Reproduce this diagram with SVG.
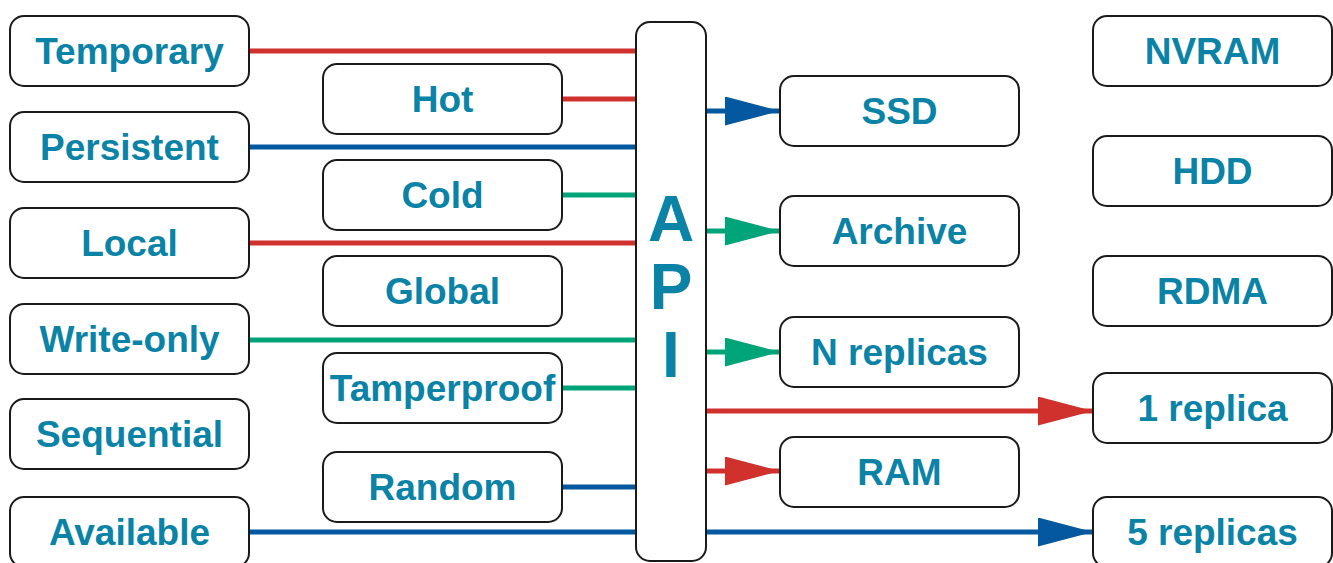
<svg xmlns="http://www.w3.org/2000/svg" width="1333" height="563" viewBox="0 0 1333 563">
<style>
.box{fill:#fff;stroke:#1a1a1a;stroke-width:2}
.t{font-family:"Liberation Sans",Arial,sans-serif;font-weight:bold;font-size:37px;fill:#0a83a6;text-anchor:middle}
.api{font-family:"Liberation Sans",Arial,sans-serif;font-weight:bold;font-size:64px;fill:#0a83a6;text-anchor:middle}
.r{stroke:#d0312d;stroke-width:5;fill:none}
.b{stroke:#03589f;stroke-width:5;fill:none}
.g{stroke:#00a479;stroke-width:5;fill:none}
</style>
<defs>
<marker id="mr" markerUnits="userSpaceOnUse" markerWidth="56" markerHeight="30" refX="55" refY="14.5" orient="auto"><path d="M0,0 L55,14.5 L0,29 z" fill="#d0312d"/></marker>
<marker id="mb" markerUnits="userSpaceOnUse" markerWidth="56" markerHeight="30" refX="55" refY="14.5" orient="auto"><path d="M0,0 L55,14.5 L0,29 z" fill="#03589f"/></marker>
<marker id="mg" markerUnits="userSpaceOnUse" markerWidth="56" markerHeight="30" refX="55" refY="14.5" orient="auto"><path d="M0,0 L55,14.5 L0,29 z" fill="#00a479"/></marker>
</defs>
<rect width="1333" height="563" fill="#fff"/>
<g id="connectors">
<line class="r" x1="249" y1="51" x2="636" y2="51"/>
<line class="r" x1="562" y1="99" x2="636" y2="99"/>
<line class="b" x1="249" y1="147" x2="636" y2="147"/>
<line class="g" x1="562" y1="195" x2="636" y2="195"/>
<line class="r" x1="249" y1="243" x2="636" y2="243"/>
<line class="g" x1="249" y1="340" x2="636" y2="340"/>
<line class="g" x1="562" y1="388" x2="636" y2="388"/>
<line class="b" x1="562" y1="487" x2="636" y2="487"/>
<line class="b" x1="249" y1="532" x2="636" y2="532"/>
<line class="b" x1="706" y1="111" x2="780" y2="111" marker-end="url(#mb)"/>
<line class="g" x1="706" y1="231" x2="780" y2="231" marker-end="url(#mg)"/>
<line class="g" x1="706" y1="352" x2="780" y2="352" marker-end="url(#mg)"/>
<line class="r" x1="706" y1="411" x2="1093" y2="411" marker-end="url(#mr)"/>
<line class="r" x1="706" y1="471" x2="780" y2="471" marker-end="url(#mr)"/>
<line class="b" x1="706" y1="532" x2="1093" y2="532" marker-end="url(#mb)"/>
</g>
<g id="temporary"><rect class="box" x="10" y="16" width="239" height="70" rx="14"/><text class="t" x="129.5" y="64">Temporary</text></g>
<g id="persistent"><rect class="box" x="10" y="112" width="239" height="70" rx="14"/><text class="t" x="129.5" y="160">Persistent</text></g>
<g id="local"><rect class="box" x="10" y="208" width="239" height="70" rx="14"/><text class="t" x="129.5" y="256">Local</text></g>
<g id="write-only"><rect class="box" x="10" y="304" width="239" height="70" rx="14"/><text class="t" x="129.5" y="352">Write-only</text></g>
<g id="sequential"><rect class="box" x="10" y="399" width="239" height="70" rx="14"/><text class="t" x="129.5" y="447">Sequential</text></g>
<g id="available"><rect class="box" x="10" y="497" width="239" height="70" rx="14"/><text class="t" x="129.5" y="545">Available</text></g>
<g id="hot"><rect class="box" x="323" y="64" width="239" height="70" rx="14"/><text class="t" x="442.5" y="112">Hot</text></g>
<g id="cold"><rect class="box" x="323" y="160" width="239" height="70" rx="14"/><text class="t" x="442.5" y="208">Cold</text></g>
<g id="global"><rect class="box" x="323" y="256" width="239" height="70" rx="14"/><text class="t" x="442.5" y="304">Global</text></g>
<g id="tamperproof"><rect class="box" x="323" y="353" width="239" height="70" rx="14"/><text class="t" x="442.5" y="401">Tamperproof</text></g>
<g id="random"><rect class="box" x="323" y="452" width="239" height="70" rx="14"/><text class="t" x="442.5" y="500">Random</text></g>
<g id="api"><rect class="box" x="636" y="22" width="70" height="539" rx="14"/><text class="api" x="671" y="241">A</text><text class="api" x="671" y="309">P</text><text class="api" x="671" y="377">I</text></g>
<g id="ssd"><rect class="box" x="780" y="76" width="239" height="70" rx="14"/><text class="t" x="899.5" y="124">SSD</text></g>
<g id="archive"><rect class="box" x="780" y="196" width="239" height="70" rx="14"/><text class="t" x="899.5" y="244">Archive</text></g>
<g id="n-replicas"><rect class="box" x="780" y="317" width="239" height="70" rx="14"/><text class="t" x="899.5" y="365">N replicas</text></g>
<g id="ram"><rect class="box" x="780" y="437" width="239" height="70" rx="14"/><text class="t" x="899.5" y="485">RAM</text></g>
<g id="nvram"><rect class="box" x="1093" y="16" width="239" height="70" rx="14"/><text class="t" x="1212.5" y="64">NVRAM</text></g>
<g id="hdd"><rect class="box" x="1093" y="136" width="239" height="70" rx="14"/><text class="t" x="1212.5" y="184">HDD</text></g>
<g id="rdma"><rect class="box" x="1093" y="256" width="239" height="70" rx="14"/><text class="t" x="1212.5" y="304">RDMA</text></g>
<g id="one-replica"><rect class="box" x="1093" y="373" width="239" height="70" rx="14"/><text class="t" x="1212.5" y="421">1 replica</text></g>
<g id="five-replicas"><rect class="box" x="1093" y="497" width="239" height="70" rx="14"/><text class="t" x="1212.5" y="545">5 replicas</text></g>
</svg>
